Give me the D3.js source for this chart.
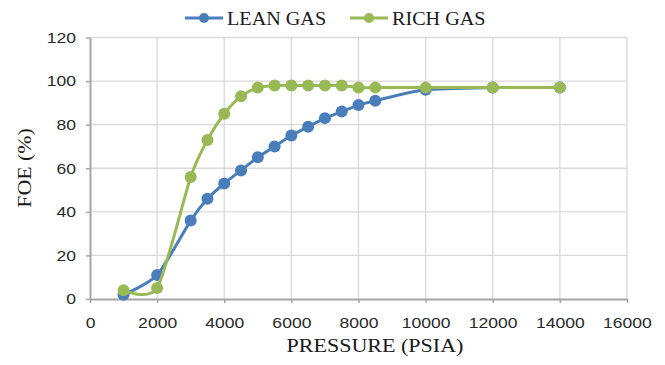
<!DOCTYPE html>
<html>
<head>
<meta charset="utf-8">
<script src="https://cdn.jsdelivr.net/npm/d3@7"></script>
<style>
  body { margin: 0; background: #fff; }
  svg { display: block; }
</style>
</head>
<body>
<svg id="chart" width="665" height="365"></svg>
<script>
// Data
const pressure = [1000, 2000, 3000, 3500, 4000, 4500, 5000, 5500, 6000, 6500, 7000, 7500, 8000, 8500, 10000, 12000, 14000];
const leanGas = [2, 11, 36, 46, 53, 59, 65, 70, 75, 79, 83, 86, 89, 91, 96, 97, 97];
const richGas = [4, 5, 56, 73, 85, 93, 97, 98, 98, 98, 98, 98, 97, 97, 97, 97, 97];
const xTicks = [0, 2000, 4000, 6000, 8000, 10000, 12000, 14000, 16000];
const yTicks = [0, 20, 40, 60, 80, 100, 120];

const series = [
  { name: "LEAN GAS", values: leanGas, color: "#4a7ebb" },
  { name: "RICH GAS", values: richGas, color: "#98b954" }
];

const svg = d3.select("#chart");
const serif = "'Liberation Serif', 'Times New Roman', serif";
const sans = "'Liberation Sans', Arial, sans-serif";
const stretch = 1.17; // the reference text is a little wide

// Plot area
const x = d3.scaleLinear().domain([0, 16000]).range([90, 627]);
const y = d3.scaleLinear().domain([0, 120]).range([299, 37.5]);

// Gridlines
const grid = svg.append("g");
grid.selectAll(".gx")
  .data(xTicks.slice(1))
  .enter().append("line")
  .attr("x1", d => x(d)).attr("x2", d => x(d))
  .attr("y1", y(0)).attr("y2", y(120))
  .attr("stroke", "#d9d9d9").attr("stroke-width", 1.3);
grid.selectAll(".gy")
  .data(yTicks.slice(1))
  .enter().append("line")
  .attr("x1", x(0)).attr("x2", x(16000))
  .attr("y1", d => y(d)).attr("y2", d => y(d))
  .attr("stroke", "#d9d9d9").attr("stroke-width", 1.3);

// Axes
const xAxis = svg.append("g")
  .attr("transform", `translate(0,${y(0)})`)
  .call(d3.axisBottom(x).tickValues(xTicks).tickSize(4).tickSizeOuter(0).tickPadding(14).tickFormat(d3.format("d")));
const yAxis = svg.append("g")
  .attr("transform", `translate(${x(0)},0)`)
  .call(d3.axisLeft(y).tickValues(yTicks).tickSize(4).tickSizeOuter(0));

[xAxis, yAxis].forEach(ax => {
  ax.select(".domain").attr("stroke", "#a6a6a6").attr("stroke-width", 2);
  ax.selectAll(".tick line").attr("stroke", "#a6a6a6").attr("stroke-width", 1.5);
  ax.selectAll(".tick text")
    .attr("fill", "#2a2a2a")
    .attr("font-family", sans)
    .attr("font-size", "15px")
    .attr("transform", `scale(${stretch},1)`);
});
yAxis.selectAll(".tick text").attr("x", -14 / stretch);

// Lines with markers
const line = d3.line()
  .x((d, i) => x(pressure[i]))
  .y(d => y(d))
  .curve(d3.curveCardinal.tension(0.3));

series.forEach(s => {
  const g = svg.append("g");
  g.append("path")
    .datum(s.values)
    .attr("d", line)
    .attr("fill", "none")
    .attr("stroke", s.color)
    .attr("stroke-width", 3);
  g.selectAll("circle")
    .data(s.values)
    .enter().append("circle")
    .attr("cx", (d, i) => x(pressure[i]))
    .attr("cy", d => y(d))
    .attr("r", 6)
    .attr("fill", s.color);
});

// Axis titles
svg.append("text")
  .attr("transform", `translate(375,352) scale(1.16,1)`)
  .attr("text-anchor", "middle")
  .attr("font-family", serif)
  .attr("font-size", "19px")
  .attr("fill", "#1a1a1a")
  .text("PRESSURE (PSIA)");

svg.append("text")
  .attr("transform", "translate(31,168) rotate(-90) scale(1.15,1)")
  .attr("text-anchor", "middle")
  .attr("font-family", serif)
  .attr("font-size", "19px")
  .attr("fill", "#1a1a1a")
  .text("FOE (%)");

// Legend
const legend = svg.append("g");
const legendX = [185, 350];
series.forEach((s, i) => {
  const lg = legend.append("g").attr("transform", `translate(${legendX[i]},18)`);
  lg.append("line")
    .attr("x1", 0).attr("x2", 38)
    .attr("stroke", s.color).attr("stroke-width", 3);
  lg.append("circle").attr("cx", 19).attr("r", 5).attr("fill", s.color);
  lg.append("text")
    .attr("transform", "translate(42,6.5) scale(1.12,1)")
    .attr("font-family", serif)
    .attr("font-size", "18px")
    .attr("fill", "#1a1a1a")
    .text(s.name);
});
</script>
</body>
</html>
